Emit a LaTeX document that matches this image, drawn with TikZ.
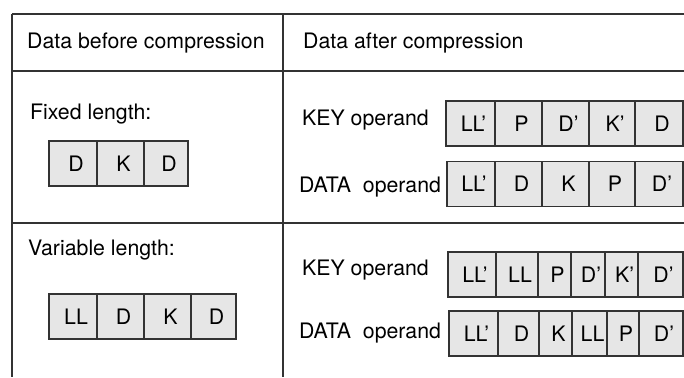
\documentclass[tikz,border=0pt]{standalone}
\usepackage{fontspec}
\setmainfont{TeX Gyre Heros}
\usepackage{tikz}
\usetikzlibrary{positioning}

\definecolor{cellgray}{HTML}{E6E6E6}
\definecolor{linegray}{HTML}{333333}

\tikzset{
    cell/.style={draw=linegray, fill=cellgray, line width=1.4pt, minimum height=45pt,
        inner sep=0pt, outer sep=0pt, anchor=west, execute at begin node={\hspace*{6pt}}},
    label/.style={anchor=base west, inner sep=0pt},
    rule/.style={draw=linegray, line width=1.3pt}
}

\begin{document}
\begin{tikzpicture}[x=1pt, y=-1pt, font=\fontsize{21.3}{25}\selectfont]

    \useasboundingbox (0,0) rectangle (684,377);

    \draw[rule] (12,14) -- (684,14);
    \draw[rule] (12,71) -- (684,71);
    \draw[rule] (12,223) -- (684,223);
    \draw[rule] (12,14) -- (12,377);
    \draw[rule] (283,14) -- (283,377);

    \node[label] (before) at (27,49) {Data before compression};
    \node[label] (after) at (303,49) {Data after compression};

    \node[label] (fixed) at (30,119) {Fixed length:};
    \node[cell, minimum width=48pt] (fixD) at (49,163.5) {D};
    \node[cell, minimum width=47pt, right=0pt of fixD] (fixK) {K};
    \node[cell, minimum width=44pt, right=0pt of fixK] (fixDD) {D};

    \node[label] (fixkey) at (302,125) {KEY operand};
    \node[cell, minimum width=49pt] (fkLL) at (446,123.5) {LL'};
    \node[cell, minimum width=47pt, right=0pt of fkLL] (fkP) {P};
    \node[cell, minimum width=47pt, right=0pt of fkP] (fkD) {D'};
    \node[cell, minimum width=46pt, right=0pt of fkD] (fkK) {K'};
    \node[cell, minimum width=48pt, right=0pt of fkK] (fkDD) {D};

    \node[label] (fixdata) at (299,192) {DATA\ \ operand};
    \node[cell, minimum width=48pt] (fdLL) at (447,184) {LL'};
    \node[cell, minimum width=47pt, right=0pt of fdLL] (fdD) {D};
    \node[cell, minimum width=47pt, right=0pt of fdD] (fdK) {K};
    \node[cell, minimum width=46pt, right=0pt of fdK] (fdP) {P};
    \node[cell, minimum width=48pt, right=0pt of fdP] (fdDD) {D'};

    \node[label] (variable) at (28,255) {Variable length:};
    \node[cell, minimum width=48pt] (varLL) at (49,316.5) {LL};
    \node[cell, minimum width=47pt, right=0pt of varLL] (varD) {D};
    \node[cell, minimum width=47pt, right=0pt of varD] (varK) {K};
    \node[cell, minimum width=45pt, right=0pt of varK] (varDD) {D};

    \node[label] (varkey) at (302,275) {KEY operand};
    \node[cell, minimum width=48pt] (vkLL) at (448,274.5) {LL'};
    \node[cell, minimum width=42pt, right=0pt of vkLL] (vkL) {LL};
    \node[cell, minimum width=33pt, right=0pt of vkL] (vkP) {P};
    \node[cell, minimum width=34pt, right=0pt of vkP] (vkD) {D'};
    \node[cell, minimum width=33pt, right=0pt of vkD] (vkK) {K'};
    \node[cell, minimum width=45pt, right=0pt of vkK] (vkDD) {D'};

    \node[label] (vardata) at (299,338) {DATA\ \ operand};
    \node[cell, minimum width=49pt] (vdLL) at (449,333.5) {LL'};
    \node[cell, minimum width=41pt, right=0pt of vdLL] (vdD) {D};
    \node[cell, minimum width=33pt, right=0pt of vdD] (vdK) {K};
    \node[cell, minimum width=35pt, right=0pt of vdK] (vdL) {LL};
    \node[cell, minimum width=32pt, right=0pt of vdL] (vdP) {P};
    \node[cell, minimum width=44pt, right=0pt of vdP] (vdDD) {D'};

\end{tikzpicture}
\end{document}
